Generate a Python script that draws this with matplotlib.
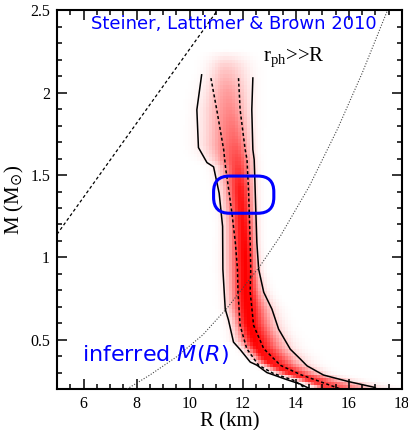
import numpy as np
import matplotlib
matplotlib.use("Agg")
import matplotlib.pyplot as plt
from matplotlib.colors import LinearSegmentedColormap
from matplotlib.patches import FancyBboxPatch

plt.rcParams['mathtext.fontset'] = 'dejavusans'

# outer (solid) contour, left and right edges: radius (km), mass (Msun)
solid_left_R = [10.45, 10.27, 10.33, 10.65, 10.90, 11.11, 11.24, 11.25, 11.34, 11.46, 11.65, 11.90, 12.28, 12.53, 12.91, 13.66, 14.17, 14.55]
solid_left_M = [2.109, 1.897, 1.667, 1.576, 1.550, 1.390, 1.188, 0.927, 0.685, 0.620, 0.485, 0.440, 0.364, 0.345, 0.300, 0.257, 0.230, 0.200]
solid_right_R = [12.38, 12.34, 12.38, 12.43, 12.47, 12.53, 12.60, 12.79, 13.10, 13.35, 13.79, 14.17, 14.42, 15.04, 15.99, 16.94, 17.05]
solid_right_M = [2.090, 1.897, 1.655, 1.594, 1.394, 1.090, 0.927, 0.788, 0.685, 0.564, 0.442, 0.382, 0.341, 0.285, 0.245, 0.211, 0.200]

# inner (dashed) contour
dash_left_R = [10.80, 11.02, 11.28, 11.36, 11.40, 11.59, 11.72, 11.80, 11.82, 11.90, 12.15, 12.60, 13.16, 13.92, 14.40]
dash_left_M = [2.089, 1.897, 1.655, 1.533, 1.493, 1.270, 1.090, 0.927, 0.788, 0.586, 0.445, 0.344, 0.294, 0.253, 0.200]
dash_right_R = [11.84, 11.90, 12.09, 12.16, 12.22, 12.28, 12.30, 12.28, 12.41, 12.79, 13.42, 14.17, 15.00, 15.68]
dash_right_M = [2.089, 1.897, 1.655, 1.594, 1.394, 1.090, 0.927, 0.788, 0.586, 0.445, 0.344, 0.288, 0.240, 0.200]

# causality limit (dashed) and r_ph >> R boundary (dotted)
caus_R = [5.0, 11.04]
caus_M = [1.14, 2.50]
rph_R = [7.64, 8.5, 9.5, 10.5, 11.42, 12.64, 13.42, 14.5, 15.57, 16.5, 17.45]
rph_M = [0.200, 0.285, 0.395, 0.530, 0.694, 0.945, 1.130, 1.430, 1.780, 2.120, 2.500]

# peak intensity of the probability shading vs mass
dens_M = [0.20, 0.30, 0.50, 1.00, 1.40, 1.70, 2.00, 2.15, 2.25]
dens_A = [0.75, 0.90, 1.00, 1.00, 0.90, 0.60, 0.38, 0.20, 0.0]

fig = plt.figure(figsize=(4.08, 4.30), dpi=100)
ax = fig.add_axes([0.1397, 0.0953, 0.8456, 0.8803])

# build shading from the contours
def interp_M(m, Rs, Ms):
    o = np.argsort(Ms)
    return np.interp(m, np.array(Ms)[o], np.array(Rs)[o])

rg = np.arange(5.0, 18.01, 0.11)
mg = np.arange(0.2, 2.5, 0.022)
RR, MM = np.meshgrid(rg, mg)
c = 0.5 * (interp_M(MM, dash_left_R, dash_left_M) + interp_M(MM, dash_right_R, dash_right_M))
sl = (c - interp_M(MM, solid_left_R, solid_left_M)) / 2.0
sr = (interp_M(MM, solid_right_R, solid_right_M) - c) / 2.0
sig = np.where(RR < c, sl, sr)
A = np.interp(MM, dens_M, dens_A)
Z = A * np.exp(-0.5 * ((RR - c) / sig) ** 2)
cmap = LinearSegmentedColormap.from_list('wr', ['#ffffff', '#ff0000'])
ax.pcolormesh(rg, mg, Z[:-1, :-1], cmap=cmap, vmin=0, vmax=1, shading='flat', zorder=1)

ax.plot(solid_left_R, solid_left_M, color='black', lw=1.1, zorder=3)
ax.plot(solid_right_R, solid_right_M, color='black', lw=1.1, zorder=3)
ax.plot(dash_left_R, dash_left_M, color='black', lw=1.1, ls=(0, (2, 1.6)), zorder=3)
ax.plot(dash_right_R, dash_right_M, color='black', lw=1.1, ls=(0, (2, 1.6)), zorder=3)
ax.plot(caus_R, caus_M, color='black', lw=0.9, ls=(0, (2.5, 2)), zorder=3)
ax.plot(rph_R, rph_M, color='#444444', lw=0.8, ls=(0, (1, 1.5)), zorder=3)

box = FancyBboxPatch((10.9, 1.268), 2.27, 0.226,
                     boxstyle="round,pad=0,rounding_size=0.6",
                     mutation_aspect=0.16, fc='none', ec='#0000ff', lw=2.2, zorder=4)
ax.add_patch(box)

ax.text(11.67, 2.415, 'Steiner, Lattimer & Brown 2010', color='#0000ff',
        fontsize=13, ha='center', va='center', family='DejaVu Sans')
ax.text(13.94, 2.21, r'r$_{\mathregular{ph}}$>>R', fontsize=15, ha='center', va='center',
        family='Liberation Serif')
ax.text(5.94, 0.41, r'inferred $M(R)$', color='#0000ff', fontsize=16,
        ha='left', va='center', family='DejaVu Sans')

ax.set_xlim(5, 18)
ax.set_ylim(0.2, 2.5)
ax.set_xticks([6, 8, 10, 12, 14, 16, 18])
ax.set_yticks([0.5, 1, 1.5, 2, 2.5])
ax.set_yticklabels(['0.5', '1', '1.5', '2', '2.5'])
ax.set_xticks(np.arange(5, 18.01, 0.5), minor=True)
ax.set_yticks(np.arange(0.2, 2.501, 0.1), minor=True)
ax.tick_params(which='both', direction='in', top=True, right=True, width=1.1,
               labelsize=11.5, pad=5)
ax.tick_params(which='major', length=7)
ax.tick_params(which='minor', length=3.5)
for lab in ax.get_xticklabels() + ax.get_yticklabels():
    lab.set_family('Liberation Serif')
for s in ax.spines.values():
    s.set_linewidth(1.5)

ax.set_xlabel('R (km)', family='Liberation Serif', fontsize=15, labelpad=0)
ax.set_ylabel(r'M (M$_{\odot}$)', family='Liberation Serif', fontsize=15, labelpad=3)

fig.savefig('out.png', dpi=100)
